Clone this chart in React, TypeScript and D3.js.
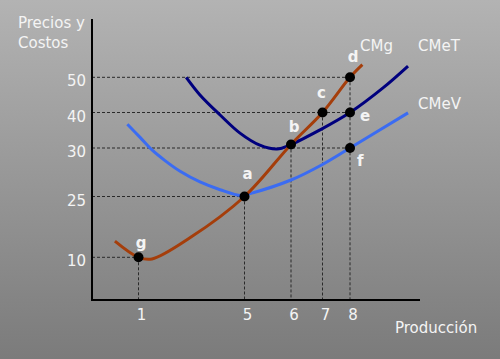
import * as d3 from 'd3';

// tick values (the axes are not linear, each tick sits where the original put it)
const xTicks = [1, 5, 6, 7, 8];
const yTicks = [10, 25, 30, 40, 50];

// curves: quantity / cost
const cmgQ = [0.11, 1, 1.51, 2.94, 5, 6, 7, 8, 8.45];
const cmgC = [14.0, 10, 9.6, 14.8, 25, 31, 40, 50, 53.6];

const cmetQ = [2.8, 3.32, 4.08, 4.83, 5.33, 5.7, 6, 6.92, 8, 9.2, 10.11];
const cmetC = [50, 45, 39.3, 34.2, 30.8, 29.9, 31, 35.1, 40, 47.0, 53.2];

const cmevQ = [0.58, 1.06, 1.51, 2.0, 2.57, 3.32, 4.08, 4.87, 5.12, 6, 6.97, 8, 10.11];
const cmevC = [36.7, 33.0, 29.8, 28.7, 27.6, 26.5, 25.7, 25.1, 25.3, 26.7, 28.25, 30, 39.9];

// marked points
const ptNames = ['g', 'a', 'b', 'c', 'd', 'e', 'f'];
const ptQ = [1, 5, 6, 7, 8, 8, 8];
const ptC = [10, 25, 31, 40, 50, 40, 30];

const W = 500;
const H = 359;

const x = d3.scaleLinear().domain(xTicks).range([138.5, 244.5, 291, 322.5, 350]);
const y = d3.scaleLinear().domain(yTicks).range([257.3, 196.5, 148, 112.5, 77.3]);

const X0 = 92;
const Y0 = 300;

const font = '"DejaVu Sans", Verdana, sans-serif';
const txt = '#f4f4f4';

const line = d3
  .line<[number, number]>()
  .x((d) => x(d[0]))
  .y((d) => y(d[1]))
  .curve(d3.curveCatmullRom.alpha(0.5));

const zip = (a: number[], b: number[]) => a.map((v, i) => [v, b[i]] as [number, number]);

// label offsets for the letters next to the points
const lblOff: Record<string, [number, number, string]> = {
  g: [2.5, -9, 'middle'],
  a: [3, -18, 'middle'],
  b: [3, -12, 'middle'],
  c: [-1, -15, 'middle'],
  d: [3, -15, 'middle'],
  e: [10, 8, 'start'],
  f: [7, 18, 'start'],
};

// dashed guides: horizontal to the point, vertical down to the axis
const hGuides = [
  { c: 50, q: 8 },
  { c: 40, q: 8 },
  { c: 30, q: 8 },
  { c: 25, q: 5 },
  { c: 10, q: 1 },
];
const vGuides = [
  { q: 1, c: 10 },
  { q: 5, c: 25 },
  { q: 6, c: 31 },
  { q: 7, c: 40 },
  { q: 8, c: 50 },
];

export default function App() {
  return (
    <svg width={W} height={H} style={{ display: 'block', position: 'absolute', left: 0, top: 0 }}>
      <defs>
        <linearGradient id="bg" x1="0" y1="0" x2="0" y2="1">
          <stop offset="0" stopColor="#b3b3b3" />
          <stop offset="1" stopColor="#7b7b7b" />
        </linearGradient>
      </defs>
      <rect width={W} height={H} fill="url(#bg)" />

      {/* guides */}
      {hGuides.map((g, i) => (
        <line key={'h' + i} x1={X0} x2={x(g.q)} y1={y(g.c)} y2={y(g.c)}
          stroke="#2a2a2a" strokeWidth={1} strokeDasharray="3,2" />
      ))}
      {vGuides.map((g, i) => (
        <line key={'v' + i} x1={x(g.q)} x2={x(g.q)} y1={y(g.c)} y2={Y0}
          stroke="#2a2a2a" strokeWidth={1} strokeDasharray="3,2" />
      ))}

      {/* axes */}
      <line x1={X0} x2={X0} y1={19} y2={Y0 + 1} stroke="#000" strokeWidth={2} />
      <line x1={X0 - 1} x2={420} y1={Y0} y2={Y0} stroke="#000" strokeWidth={2} />

      {/* curves */}
      <path d={line(zip(cmevQ, cmevC)) || ''} fill="none" stroke="#3b6cf2" strokeWidth={3} />
      <path d={line(zip(cmetQ, cmetC)) || ''} fill="none" stroke="#00007e" strokeWidth={3} />
      <path d={line(zip(cmgQ, cmgC)) || ''} fill="none" stroke="#a53e0b" strokeWidth={3} />

      {/* points */}
      {ptNames.map((n, i) => (
        <g key={n}>
          <circle cx={x(ptQ[i])} cy={y(ptC[i])} r={5} fill="#000" />
          <text x={x(ptQ[i]) + lblOff[n][0]} y={y(ptC[i]) + lblOff[n][1]}
            textAnchor={lblOff[n][2]} fill={txt} fontFamily={font} fontSize={15} fontWeight="bold">
            {n}
          </text>
        </g>
      ))}

      {/* tick labels */}
      {yTicks.map((t) => (
        <text key={'y' + t} x={86} y={y(t) + 9} textAnchor="end" fill={txt} fontFamily={font} fontSize={15}>
          {t}
        </text>
      ))}
      {xTicks.map((t) => (
        <text key={'x' + t} x={x(t) + 3} y={320} textAnchor="middle" fill={txt} fontFamily={font} fontSize={15}>
          {t}
        </text>
      ))}

      {/* titles */}
      <text x={18} y={28} fill={txt} fontFamily={font} fontSize={15}>Precios y</text>
      <text x={18} y={48} fill={txt} fontFamily={font} fontSize={15}>Costos</text>
      <text x={395} y={333} fill={txt} fontFamily={font} fontSize={15}>Producción</text>

      <text x={360} y={51} fill={txt} fontFamily={font} fontSize={15}>CMg</text>
      <text x={418} y={51} fill={txt} fontFamily={font} fontSize={15}>CMeT</text>
      <text x={418} y={109} fill={txt} fontFamily={font} fontSize={15}>CMeV</text>
    </svg>
  );
}
